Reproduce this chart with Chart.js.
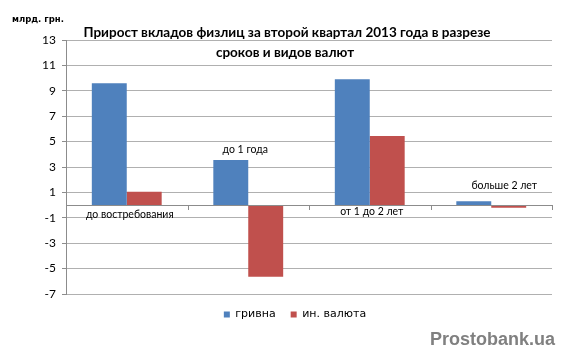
<!DOCTYPE html>
<html><head><meta charset="utf-8">
<script src="https://cdn.jsdelivr.net/npm/chart.js@4/dist/chart.umd.min.js"></script>
<style>html,body{margin:0;padding:0;background:#fff}#w{width:569px;height:355px;position:relative}</style>
</head><body><div id="w"><canvas id="c" width="569" height="355"></canvas></div>
<script>
const categories = ["до востребования", "до 1 года", "от 1 до 2 лет", "больше 2 лет"];
const hryvnia = [9.6, 3.55, 9.9, 0.3];
const foreign = [1.05, -5.65, 5.45, -0.2];
const seriesNames = ["гривна", "ин. валюта"];
const yTicks = [13, 11, 9, 7, 5, 3, 1, -1, -3, -5, -7];
const titleLines = ["Прирост вкладов физлиц за второй квартал 2013 года в разрезе", "сроков и видов валют"];
const unitLabel = "млрд. грн.";
const watermark = "Prostobank.ua";

const overlay = {
  id: 'overlay',
  afterLayout(chart) {
    const L = chart.legend;
    if (L) { L.left += 19; L.right += 19; L.top -= 8; L.bottom -= 8; }
  },
  afterDraw(chart) {
    const ctx = chart.ctx, x = chart.scales.x, y = chart.scales.y;
    const y0 = y.getPixelForValue(0);
    ctx.save();
    ctx.strokeStyle = '#8c8c8c'; ctx.lineWidth = 1;
    ctx.beginPath(); ctx.moveTo(x.left, Math.round(y0)+0.5); ctx.lineTo(x.right, Math.round(y0)+0.5); ctx.stroke();
    for (let i = 0; i <= categories.length; i++) {
      const px = i === 0 ? x.left : (i === categories.length ? x.right : (x.getPixelForValue(i-1) + x.getPixelForValue(i)) / 2);
      ctx.beginPath(); ctx.moveTo(Math.round(px)+0.5, Math.round(y0)); ctx.lineTo(Math.round(px)+0.5, Math.round(y0)+5); ctx.stroke();
    }
    ctx.fillStyle = '#000'; ctx.font = '10.5px Lato, sans-serif';
    ctx.textAlign = 'center'; ctx.textBaseline = 'middle';
    const offs = [[3, 10], [-3, -55], [2, 7], [13, -19]];
    categories.forEach((c, i) => {
      const cx = x.getPixelForValue(i);
      ctx.fillText(c, cx + offs[i][0], y0 + offs[i][1]);
    });
    ctx.font = 'bold 13.5px Lato, sans-serif';
    ctx.fillText(titleLines[0], 287, 33);
    ctx.fillText(titleLines[1], 285, 53);
    ctx.textAlign = 'left';
    ctx.font = 'bold 8.5px "DejaVu Sans", sans-serif';
    ctx.fillText(unitLabel, 12, 20);
    ctx.textAlign = 'right';
    ctx.fillStyle = '#808080';
    ctx.font = 'bold 18px "Liberation Sans", sans-serif';
    ctx.fillText(watermark, 555, 340);
    ctx.restore();
  }
};

new Chart(document.getElementById('c'), {
  type: 'bar',
  data: {
    labels: categories,
    datasets: [
      { label: seriesNames[0], data: hryvnia, backgroundColor: '#4F81BD', barPercentage: 1, categoryPercentage: 0.575 },
      { label: seriesNames[1], data: foreign, backgroundColor: '#C0504D', barPercentage: 1, categoryPercentage: 0.575 }
    ]
  },
  options: {
    responsive: false, animation: false,
    layout: { padding: { top: 40, right: 17, bottom: 17, left: 0 } },
    plugins: {
      legend: {
        position: 'bottom',
        labels: { boxWidth: 6, boxHeight: 6, font: { size: 11, family: '"DejaVu Sans", sans-serif' }, color: '#000', padding: 15 }
      },
      tooltip: { enabled: false },
      title: { display: false }
    },
    scales: {
      x: {
        ticks: { display: false },
        grid: { display: false },
        border: { display: false }
      },
      y: {
        min: -7, max: 13,
        afterBuildTicks(ax) { ax.ticks = yTicks.map(v => ({ value: v })); },
        afterFit(ax) { ax.width = 66; },
        ticks: { color: '#000', font: { size: 12, family: 'Lato, sans-serif' }, padding: 6 },
        grid: { color: '#b0b0b0', tickColor: '#8c8c8c', tickLength: 4, drawTicks: true, tickBorderDash: [0,0], borderDash: [1,2] },
        border: { display: true, color: '#8c8c8c' }
      }
    }
  },
  plugins: [overlay]
});
</script></body></html>
